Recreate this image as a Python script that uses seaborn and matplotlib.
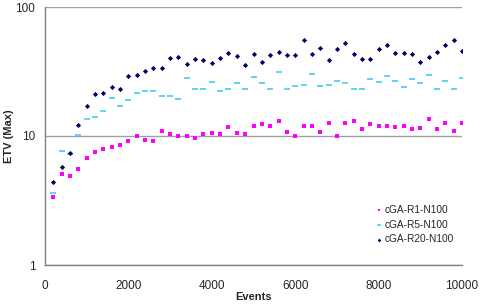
import pandas as pd
import matplotlib
matplotlib.use("Agg")
import matplotlib.pyplot as plt
import seaborn as sns

# DATA
events = list(range(200, 10001, 200))

r1_n100 = [3.39, 5.05, 4.87, 5.55, 6.75, 7.47, 7.88, 8.27, 8.47, 9.19,
           10.05, 9.31, 9.19, 10.9, 10.3, 10.0, 10.0, 9.7, 10.4, 10.6,
           10.3, 11.7, 10.6, 10.3, 11.9, 12.3, 12.0, 13.0, 10.7, 10.0,
           12.0, 12.0, 10.7, 12.5, 10.0, 12.6, 13.0, 11.3, 12.4, 11.9,
           11.9, 11.7, 12.0, 11.3, 11.5, 13.6, 11.3, 12.5, 11.0, 12.5]

r5_n100 = [3.59, 7.69, 7.3, 10.2, 13.5, 14.0, 15.5, 19.8, 17.1, 19.0,
           21.4, 22.5, 22.5, 20.3, 20.3, 19.3, 28.2, 23.1, 23.2, 26.4,
           22.5, 23.0, 25.7, 23.1, 28.7, 25.9, 23.1, 31.3, 23.2, 24.5,
           25.0, 30.2, 24.5, 24.8, 26.8, 25.7, 23.2, 23.0, 27.5, 26.4,
           29.2, 26.8, 23.9, 27.6, 25.7, 29.7, 23.1, 26.8, 23.0, 28.2]

r20_n100 = [4.42, 5.78, 7.34, 12.2, 17.0, 21.3, 21.5, 23.9, 23.0, 29.0,
            29.9, 31.7, 33.7, 33.7, 40.0, 41.2, 36.4, 39.5, 38.6, 36.6,
            40.0, 43.8, 42.0, 35.3, 43.2, 37.7, 42.2, 45.1, 42.2, 42.2,
            55.2, 43.2, 48.1, 39.1, 47.3, 52.3, 43.2, 39.5, 39.5, 47.5,
            51.0, 44.0, 44.2, 43.4, 37.3, 40.7, 44.5, 50.5, 55.2, 45.4]

series_names = ["cGA-R1-N100", "cGA-R5-N100", "cGA-R20-N100"]
x_ticks = [0, 2000, 4000, 6000, 8000, 10000]
y_ticks = [1, 10, 100]

# long form table for seaborn
df = pd.concat([
    pd.DataFrame({"Events": events, "ETV": vals, "Series": name})
    for name, vals in zip(series_names, [r1_n100, r5_n100, r20_n100])
])

colors = {"cGA-R1-N100": "#ff00ff", "cGA-R5-N100": "#33ccee", "cGA-R20-N100": "#000066"}
markers = {"cGA-R1-N100": "s", "cGA-R5-N100": "_", "cGA-R20-N100": "D"}
sizes = {"cGA-R1-N100": 9, "cGA-R5-N100": 16, "cGA-R20-N100": 7}

sns.set_style("white")
plt.rcParams['font.family'] = ['Liberation Sans', 'DejaVu Sans']

fig = plt.figure(figsize=(4.82, 3.06), dpi=100)
ax = fig.add_axes([45 / 482, 1 - 265 / 306, 417 / 482, 258 / 306])

for name in series_names:
    sub = df[df["Series"] == name]
    sns.scatterplot(data=sub, x="Events", y="ETV", ax=ax, color=colors[name],
                    marker=markers[name], s=sizes[name], linewidth=1.1 if name == "cGA-R5-N100" else 0,
                    edgecolor=colors[name], label=name, zorder=3)

ax.set_yscale("log")
ax.set_xlim(0, 10000)
ax.set_ylim(1, 100)
ax.set_xticks(x_ticks)
ax.set_xticklabels([str(t) for t in x_ticks], fontsize=8.5)
ax.set_yticks(y_ticks)
ax.set_yticklabels([str(t) for t in y_ticks], fontsize=8.5)
ax.minorticks_off()

# gridlines at decades
ax.yaxis.grid(True, color="#a0a0a0", linewidth=1)
ax.xaxis.grid(False)
ax.set_axisbelow(True)

for side in ["top", "right"]:
    ax.spines[side].set_visible(False)
for side in ["left", "bottom"]:
    ax.spines[side].set_color("#808080")
    ax.spines[side].set_linewidth(1)

ax.tick_params(axis="both", direction="out", length=4, width=1, color="#808080")
ax.tick_params(axis="x", pad=7)
ax.tick_params(axis="y", pad=3)

ax.set_xlabel("Events", fontsize=8, fontweight="bold", labelpad=0)
ax.set_ylabel("ETV (Max)", fontsize=8, fontweight="bold")
ax.yaxis.set_label_coords(-0.075, 0.5)

leg = ax.legend(loc="lower right", bbox_to_anchor=(0.99, 0.065), frameon=False,
                fontsize=7.3, handletextpad=0.15, labelspacing=0.45, borderaxespad=0,
                handlelength=0.8, markerscale=0.7)

fig.savefig("out.png", dpi=100)
